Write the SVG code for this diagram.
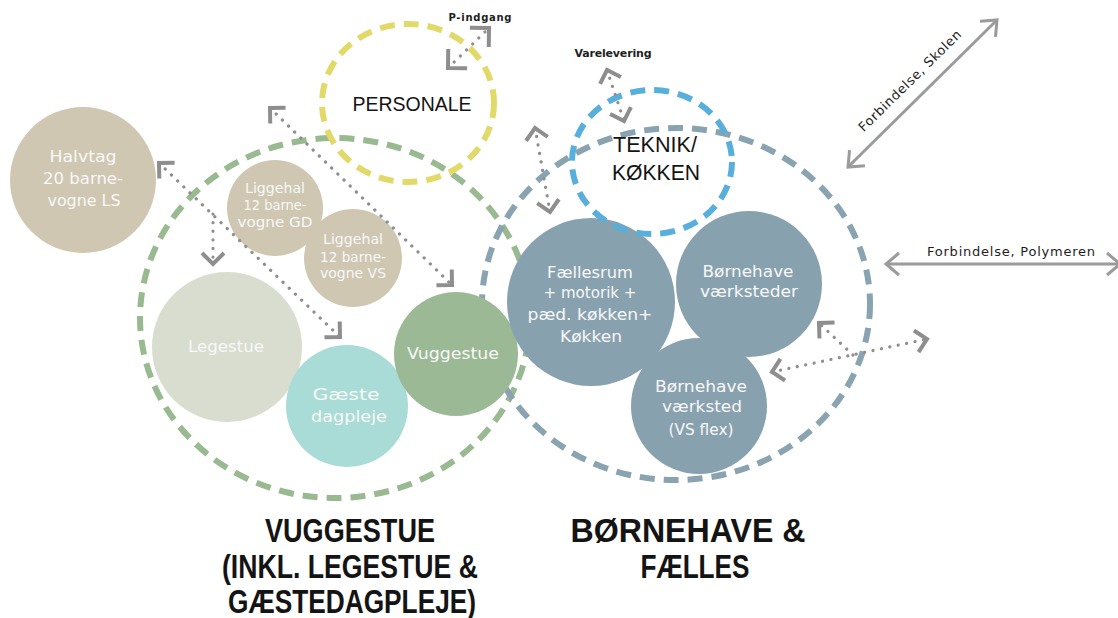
<svg xmlns="http://www.w3.org/2000/svg" width="1118" height="618" viewBox="0 0 1118 618">
<style>
.zone{fill:none;stroke-width:6;stroke-dasharray:15 9}
.lbl{font-family:"DejaVu Sans",sans-serif;fill:#f8f8f8;text-anchor:middle}
.ttl{font-family:"Liberation Sans",Arial,sans-serif;fill:#141414;text-anchor:middle}
.big{font-family:"Liberation Sans",Arial,sans-serif;font-weight:bold;fill:#141414;text-anchor:middle;font-size:33px}
.sm{font-family:"DejaVu Sans",sans-serif;fill:#1e1e1e;text-anchor:middle}
.dot{fill:none;stroke:#8e8e8e;stroke-width:3.2;stroke-linecap:round;stroke-dasharray:0.1 8.5;marker-start:url(#chev);marker-end:url(#chev)}
.dotL{fill:none;stroke:#8e8e8e;stroke-width:3.2;stroke-linecap:round;stroke-dasharray:0.1 8.5;marker-start:url(#chevL);marker-end:url(#chevL)}
.sol{fill:none;stroke:#9b9b9b;stroke-width:3;marker-start:url(#open);marker-end:url(#open)}
</style>
<defs>
<marker id="chev" viewBox="-20 -20 40 40" markerWidth="40" markerHeight="40" markerUnits="userSpaceOnUse" orient="auto-start-reverse" refX="0" refY="0">
<path d="M-11,-11 L0,0 L-11,11" fill="none" stroke="#8e8e8e" stroke-width="4"/>
</marker>
<marker id="chevL" viewBox="-20 -20 40 40" markerWidth="40" markerHeight="40" markerUnits="userSpaceOnUse" orient="auto-start-reverse" refX="0" refY="0">
<path d="M-13.5,-13.5 L0,0 L-13.5,13.5" fill="none" stroke="#8e8e8e" stroke-width="4"/>
</marker>
<marker id="open" viewBox="-20 -20 40 40" markerWidth="40" markerHeight="40" markerUnits="userSpaceOnUse" orient="auto-start-reverse" refX="0" refY="0">
<path d="M-13,-11 L0,0 L-13,11" fill="none" stroke="#9b9b9b" stroke-width="3"/>
</marker>
</defs>

<g id="zone-vuggestue"><ellipse class="zone" cx="335" cy="318" rx="195" ry="180" stroke="#99b991"/></g>
<g id="zone-boernehave"><ellipse class="zone" cx="676" cy="304" rx="194" ry="176" stroke="#89a3b1"/></g>

<g id="halvtag"><circle cx="83" cy="180" r="73" fill="#cfc7b2"/>
<text class="lbl" font-size="16" x="83" y="162" textLength="67" lengthAdjust="spacingAndGlyphs">Halvtag</text>
<text class="lbl" font-size="16" x="83" y="184" textLength="80" lengthAdjust="spacingAndGlyphs">20 barne-</text>
<text class="lbl" font-size="16" x="84" y="206" textLength="73" lengthAdjust="spacingAndGlyphs">vogne LS</text></g>

<g id="liggehal-gd"><circle cx="275" cy="208" r="48" fill="#cfc7b2"/>
<text class="lbl" font-size="14" x="275" y="193" textLength="60" lengthAdjust="spacingAndGlyphs">Liggehal</text>
<text class="lbl" font-size="14" x="275" y="210" textLength="63" lengthAdjust="spacingAndGlyphs">12 barne-</text>
<text class="lbl" font-size="14" x="275" y="227" textLength="75" lengthAdjust="spacingAndGlyphs">vogne GD</text></g>

<g id="liggehal-vs"><circle cx="353" cy="258" r="49" fill="#cfc7b2"/>
<text class="lbl" font-size="14" x="353" y="244" textLength="60" lengthAdjust="spacingAndGlyphs">Liggehal</text>
<text class="lbl" font-size="14" x="353" y="262" textLength="66" lengthAdjust="spacingAndGlyphs">12 barne-</text>
<text class="lbl" font-size="14" x="353" y="278" textLength="66" lengthAdjust="spacingAndGlyphs">vogne VS</text></g>

<g id="legestue"><circle cx="227" cy="347" r="75" fill="#d9ddcf"/>
<text class="lbl" font-size="15" x="226" y="352" textLength="76" lengthAdjust="spacingAndGlyphs">Legestue</text></g>

<g id="gaeste-dagpleje"><circle cx="347" cy="406" r="61" fill="#a9dcd6"/>
<text class="lbl" font-size="15" x="346" y="400" textLength="67" lengthAdjust="spacingAndGlyphs">Gæste</text>
<text class="lbl" font-size="15" x="349" y="422" textLength="76" lengthAdjust="spacingAndGlyphs">dagpleje</text></g>

<g id="vuggestue"><circle cx="456" cy="354" r="62" fill="#9bb995"/>
<text class="lbl" font-size="15" x="453" y="359" textLength="92" lengthAdjust="spacingAndGlyphs">Vuggestue</text></g>

<g id="faellesrum"><circle cx="591" cy="302" r="84" fill="#88a1af"/>
<text class="lbl" font-size="15" x="590" y="278" textLength="86" lengthAdjust="spacingAndGlyphs">Fællesrum</text>
<text class="lbl" font-size="15" x="590" y="298" textLength="93" lengthAdjust="spacingAndGlyphs">+ motorik +</text>
<text class="lbl" font-size="15" x="590" y="320" textLength="125" lengthAdjust="spacingAndGlyphs">pæd. køkken+</text>
<text class="lbl" font-size="15" x="591" y="342" textLength="62" lengthAdjust="spacingAndGlyphs">Køkken</text></g>

<g id="boernehave-vaerksteder"><circle cx="749" cy="284" r="73" fill="#88a1af"/>
<text class="lbl" font-size="15" x="748" y="277" textLength="91" lengthAdjust="spacingAndGlyphs">Børnehave</text>
<text class="lbl" font-size="15" x="749" y="297" textLength="98" lengthAdjust="spacingAndGlyphs">værksteder</text></g>

<g id="boernehave-vaerksted-vs"><circle cx="699" cy="406" r="68" fill="#88a1af"/>
<text class="lbl" font-size="15" x="701" y="392" textLength="92" lengthAdjust="spacingAndGlyphs">Børnehave</text>
<text class="lbl" font-size="15" x="702" y="412" textLength="80" lengthAdjust="spacingAndGlyphs">værksted</text>
<text class="lbl" font-size="15" x="701" y="435" textLength="65" lengthAdjust="spacingAndGlyphs">(VS flex)</text></g>

<g id="personale"><ellipse class="zone" cx="408" cy="103" rx="86" ry="79" fill="#ffffff" stroke="#e2da68"/>
<text class="ttl" font-size="21" x="412" y="111" textLength="119" lengthAdjust="spacingAndGlyphs">PERSONALE</text></g>

<g id="teknik-koekken"><ellipse class="zone" cx="652" cy="162" rx="80" ry="72" fill="#ffffff" stroke="#58afdb"/>
<text class="ttl" font-size="22" x="655" y="152" textLength="84" lengthAdjust="spacingAndGlyphs">TEKNIK/</text>
<text class="ttl" font-size="22" x="656" y="180" textLength="88" lengthAdjust="spacingAndGlyphs">KØKKEN</text></g>

<g id="connectors">
<path class="dotL" d="M448,68 L489,28"/>
<path class="dot" d="M607,70 L624,121"/>
<path class="dot" d="M535,128 L550,212"/>
<path class="dot" d="M159,163 L340,337"/>
<path class="dot" d="M213,214 L213,264" style="marker-start:none"/>
<path class="dot" d="M270,108 L452,285"/>
<path class="dot" d="M772,372 L927,339"/>
<path class="dot" d="M853,355 L819,323" style="marker-start:none"/>
<path class="sol" d="M848,167 L997,20"/>
<path class="sol" d="M886,264 L1120,264"/>
<text class="sm" font-size="10" font-weight="bold" x="480" y="21" textLength="63">P-indgang</text>
<text class="sm" font-size="11" font-weight="bold" x="613" y="57" textLength="77">Varelevering</text>
<text class="sm" font-size="13" x="1011" y="256" textLength="168">Forbindelse, Polymeren</text>
<text class="sm" font-size="13" x="913" y="84" textLength="138" transform="rotate(-44.6 913 84)">Forbindelse, Skolen</text>
</g>

<g id="title-vuggestue">
<text class="big" x="350" y="542" textLength="170" lengthAdjust="spacingAndGlyphs">VUGGESTUE</text>
<text class="big" x="350" y="578" textLength="256" lengthAdjust="spacingAndGlyphs">(INKL. LEGESTUE &amp;</text>
<text class="big" x="352" y="613" textLength="248" lengthAdjust="spacingAndGlyphs">GÆSTEDAGPLEJE)</text>
</g>
<g id="title-boernehave">
<text class="big" x="688" y="542" textLength="235" lengthAdjust="spacingAndGlyphs">BØRNEHAVE &amp;</text>
<text class="big" x="695" y="578" textLength="109" lengthAdjust="spacingAndGlyphs">FÆLLES</text>
</g>
</svg>
